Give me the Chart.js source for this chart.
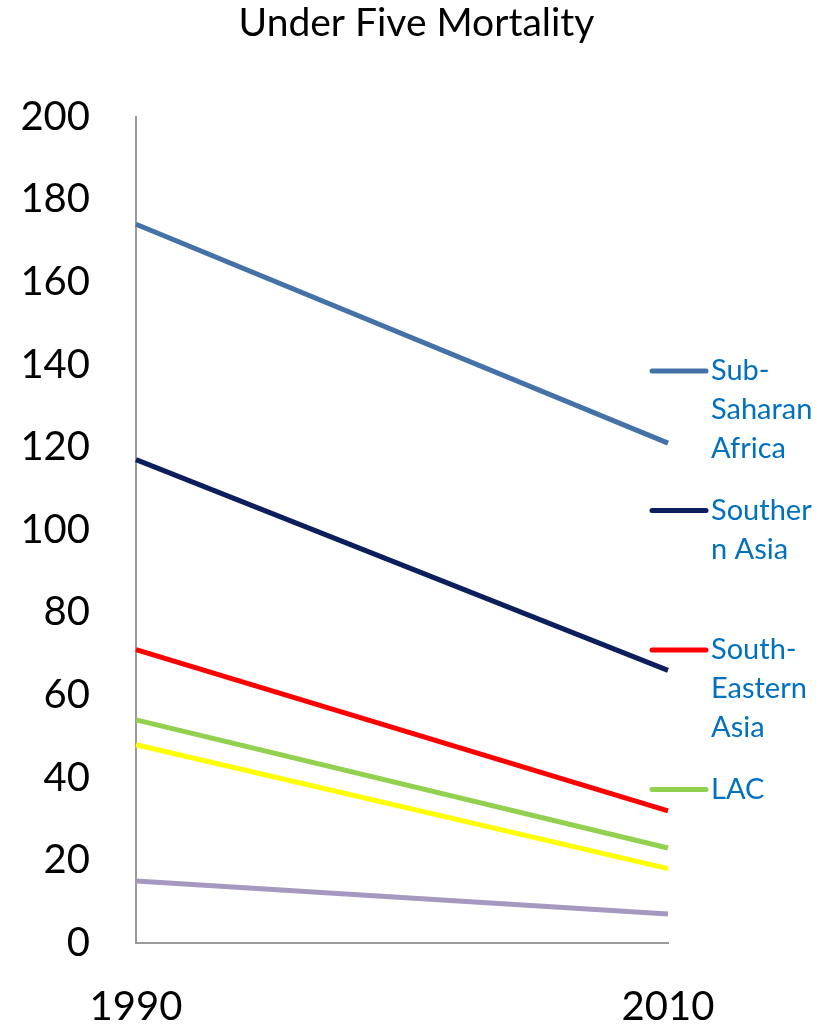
<!DOCTYPE html>
<html>
<head>
<meta charset="utf-8">
<title>Under Five Mortality</title>
<script src="https://cdn.jsdelivr.net/npm/chart.js@4.4.1/dist/chart.umd.min.js"></script>
<style>
  html, body { margin: 0; padding: 0; background: #ffffff; }
  #wrap { width: 833px; height: 1024px; }
</style>
</head>
<body>
<div id="wrap"><canvas id="chart" width="833" height="1024"></canvas></div>
<script>
// Under-five mortality rate (deaths per 1,000 live births)
const years = ['1990', '2010'];

const subSaharanAfrica = [174, 121];
const southernAsia     = [117, 66];
const southEasternAsia = [71, 32];
const latinAmericaCarib = [54, 23];
const easternAsia      = [48, 18];
const developedRegions = [15, 7];

const seriesNames = ['Sub-Saharan Africa', 'Southern Asia', 'South-Eastern Asia', 'LAC', 'Eastern Asia', 'Developed regions'];
const seriesColors = ['#4472A8', '#0C1F5C', '#FF0000', '#92D050', '#FFFF00', '#A599BF'];

// Wrapped legend text for the entries shown in the side legend
const legendLines = [
  ['Sub-', 'Saharan', 'Africa'],
  ['Souther', 'n Asia'],
  ['South-', 'Eastern', 'Asia'],
  ['LAC']
];

const yTicks = [0, 20, 40, 60, 80, 100, 120, 140, 160, 180, 200];

const FONT = 'Lato, "Open Sans", "DejaVu Sans", sans-serif';

const seriesValues = [subSaharanAfrica, southernAsia, southEasternAsia, latinAmericaCarib, easternAsia, developedRegions];

const datasets = seriesValues.map((vals, i) => ({
  label: seriesNames[i],
  data: vals,
  borderColor: seriesColors[i],
  backgroundColor: seriesColors[i],
  borderWidth: 5,
  borderCapStyle: 'butt',
  pointRadius: 0,
  pointHoverRadius: 0,
  fill: false,
  tension: 0,
  yAxisID: 'y'
}));

// Side legend: a short line swatch followed by wrapped blue text, one slot per entry
const sideLegend = {
  id: 'sideLegend',
  afterDraw(chart) {
    const ctx = chart.ctx;
    const firstY = 371;
    const slot = 139.5;
    const lineGap = 39;
    const swatchX0 = 652, swatchX1 = 706, textX = 711;
    ctx.save();
    ctx.font = '29px ' + FONT;
    ctx.textBaseline = 'middle';
    ctx.textAlign = 'left';
    legendLines.forEach((lines, i) => {
      const y = firstY + i * slot;
      ctx.strokeStyle = seriesColors[i];
      ctx.lineWidth = 5;
      ctx.lineCap = 'round';
      ctx.beginPath();
      ctx.moveTo(swatchX0, y);
      ctx.lineTo(swatchX1, y);
      ctx.stroke();
      ctx.fillStyle = '#0070C0';
      lines.forEach((t, k) => ctx.fillText(t, textX, y + k * lineGap));
    });
    ctx.restore();
  }
};

new Chart(document.getElementById('chart'), {
  type: 'line',
  data: { labels: years, datasets },
  plugins: [sideLegend],
  options: {
    responsive: false,
    animation: false,
    events: [],
    layout: { padding: 0 },
    plugins: {
      legend: { display: false },
      tooltip: { enabled: false },
      title: {
        display: true,
        text: 'Under Five Mortality',
        color: '#000000',
        font: { family: FONT, size: 39, weight: 'normal' },
        padding: { top: 0, bottom: 70 }
      }
    },
    scales: {
      x: {
        offset: false,
        grid: { display: false, drawTicks: false },
        border: { display: true, color: '#9A9A9A', width: 2 },
        ticks: {
          color: '#000000',
          font: { family: FONT, size: 40 },
          padding: 40,
          maxRotation: 0,
          autoSkip: false
        },
        afterFit(scale) { scale.height = 81; }
      },
      y: {
        min: 0,
        max: 200,
        afterBuildTicks(scale) { scale.ticks = yTicks.map(v => ({ value: v })); },
        grid: { display: false, drawTicks: false },
        border: { display: true, color: '#9A9A9A', width: 2 },
        ticks: {
          color: '#000000',
          font: { family: FONT, size: 40 },
          padding: 46
        },
        afterFit(scale) { scale.width = 136; }
      },
      // blank strip on the right that holds the side legend
      legendSpace: {
        position: 'right',
        display: true,
        min: 0,
        max: 200,
        grid: { display: false, drawTicks: false },
        border: { display: false },
        ticks: { display: false },
        afterFit(scale) { scale.width = 165; }
      }
    }
  }
});
</script>
</body>
</html>
